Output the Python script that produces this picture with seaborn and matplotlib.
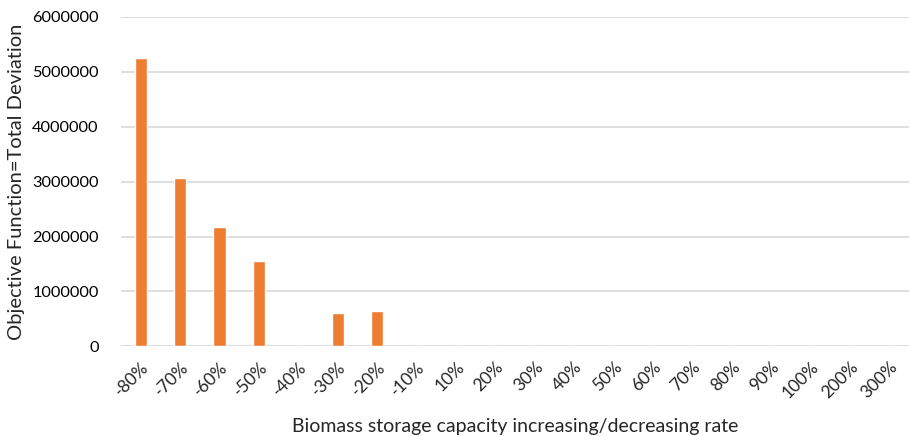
import numpy as np
import pandas as pd
import seaborn as sns
import matplotlib.pyplot as plt

## data
rates = ["-80%", "-70%", "-60%", "-50%", "-40%", "-30%", "-20%", "-10%",
         "10%", "20%", "30%", "40%", "50%", "60%", "70%", "80%", "90%",
         "100%", "200%", "300%"]
deviation = [5260000, 3075000, 2165000, 1555000, 0, 610000, 635000, 0,
             0, 0, 0, 0, 0, 0, 0, 0, 0, 0, 0, 0]

df = pd.DataFrame({"Rate": rates, "Deviation": deviation})

sns.set_style("white")
plt.rcParams['font.family'] = ['Lato', 'DejaVu Sans']

fig = plt.figure(figsize=(9.1, 4.36), dpi=100)
ax = fig.add_axes([121/910, 1 - 346.3/436, 788/910, (346.3 - 17)/436])

sns.barplot(data=df, x="Rate", y="Deviation", color="#ED7D31",
            width=0.31, saturation=1, ax=ax)

ax.set_ylim(0, 6000000)
ax.set_yticks(np.arange(0, 6000001, 1000000))
ax.set_yticklabels([str(v) for v in range(0, 6000001, 1000000)])
ax.set_xlim(-0.5, len(rates) - 0.5)

## grid like excel
ax.yaxis.grid(True, color="#D9D9D9", linewidth=1.2)
ax.set_axisbelow(True)
for s in ax.spines.values():
    s.set_visible(False)

ax.tick_params(axis="y", length=0, pad=16, labelsize=11.8, labelcolor="#000000")
ax.tick_params(axis="x", length=0, pad=9, labelsize=12.5)
plt.setp(ax.get_xticklabels(), rotation=45, ha="right", rotation_mode="anchor")

ax.set_xlabel("Biomass storage capacity increasing/decreasing rate", fontsize=14, labelpad=12)
ax.set_ylabel("Objective Function=Total Deviation", fontsize=14.5, labelpad=5)

fig.savefig("out.png", dpi=100)
